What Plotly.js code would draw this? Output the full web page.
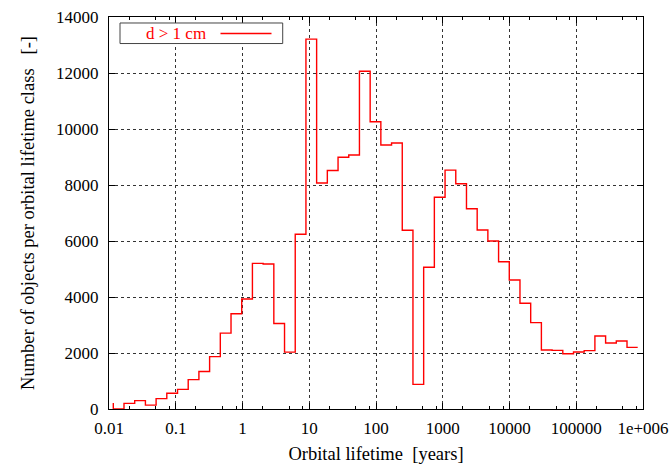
<!DOCTYPE html>
<html>
<head>
<meta charset="utf-8">
<script src="https://cdn.plot.ly/plotly-3.0.1.min.js"></script>
<style>
html,body{margin:0;padding:0;background:#fff;}
#chart{width:672px;height:469px;}
</style>
</head>
<body>
<div id="chart"></div>
<script>
// Step points (orbital lifetime class boundaries, years) and object counts
const lifetimeYears = [
  0.01160, 0.01678, 0.02427, 0.03511, 0.05078, 0.07345, 0.1063, 0.1537, 0.2223, 0.3216,
  0.4652, 0.6730, 0.9736, 1.408, 2.037, 2.947, 4.263, 6.166, 8.920, 12.90,
  18.66, 27.01, 39.06, 56.49, 81.74, 118.2, 171.0, 247.4, 357.9, 517.6,
  748.8, 1083, 1567, 2267, 3280, 4742, 6862, 9924, 14350, 20770,
  30040, 43450, 62860, 90940, 131500, 190300, 275300, 398100, 576000, 833100
];
const objectCounts = [
  215, 0, 200, 300, 140, 370, 560, 700, 1050, 1340,
  1870, 2710, 3400, 3930, 5200, 5180, 3055, 2030, 6240, 13210,
  8070, 8520, 8990, 9070, 12065, 10260, 9430, 9500, 6385, 880,
  5060, 7560, 8530, 8045, 7150, 6395, 6000, 5260, 4605, 3775,
  3085, 2105, 2095, 1975, 2035, 2085, 2605, 2355, 2430, 2200
];
const seriesName = 'd > 1 cm';
const xTickVals = [0.01, 0.1, 1, 10, 100, 1000, 10000, 100000, 1000000];
const xTickText = ['0.01', '0.1', '1', '10', '100', '1000', '10000', '100000', '1e+006'];
const minorMultiples = [2, 5, 8];

const minorVals = [];
xTickVals.slice(0, -1).forEach(d => minorMultiples.forEach(m => minorVals.push(d * m)));

const FONT = '"Liberation Serif", "Times New Roman", serif';

const trace = {
  x: lifetimeYears,
  y: objectCounts,
  type: 'scatter',
  mode: 'lines',
  name: seriesName,
  line: {shape: 'vh', color: '#ff0000', width: 1.4},
  showlegend: false,
  hoverinfo: 'x+y'
};

const axisCommon = {
  showline: true, linecolor: '#000', linewidth: 1,
  mirror: 'allticks', ticks: 'inside', ticklen: 6, tickcolor: '#000', tickwidth: 1,
  showgrid: true, gridcolor: '#333', griddash: 'dot', gridwidth: 1,
  zeroline: false,
  tickfont: {family: FONT, size: 17, color: '#000'}
};

const layout = {
  width: 672, height: 469,
  margin: {l: 109, r: 29, t: 17, b: 60},
  paper_bgcolor: '#fff', plot_bgcolor: '#fff',
  font: {family: FONT, size: 17, color: '#000'},
  xaxis: Object.assign({}, axisCommon, {
    type: 'log', range: [-2, 6],
    tickmode: 'array', tickvals: xTickVals, ticktext: xTickText,
    ticklabelstandoff: 4,
    minor: {tickmode: 'array', tickvals: minorVals, ticks: 'inside', ticklen: 3, tickcolor: '#000', showgrid: false},
    title: {text: 'Orbital lifetime\u00a0\u00a0[years]', font: {family: FONT, size: 18.5, color: '#000'}, standoff: 9}
  }),
  yaxis: Object.assign({}, axisCommon, {
    range: [0, 14000], tickmode: 'linear', tick0: 0, dtick: 2000, tickformat: 'd',
    ticklabelstandoff: 6,
    title: {text: 'Number of objects per orbital lifetime class\u00a0\u00a0\u00a0[-]', font: {family: FONT, size: 18.5, color: '#000'}, standoff: 16}
  }),
  shapes: [
    {type: 'rect', xref: 'paper', yref: 'paper', x0: 0.0206, x1: 0.3253, y0: 0.9323, y1: 0.9847,
     line: {color: '#444', width: 1}, fillcolor: '#fff'},
    {type: 'line', xref: 'paper', yref: 'paper', x0: 0.2088, x1: 0.3043, y0: 0.9578, y1: 0.9578,
     line: {color: '#ff0000', width: 1.4}}
  ],
  annotations: [
    {xref: 'paper', yref: 'paper', x: 0.1255, y: 0.9578, text: seriesName, showarrow: false,
     xanchor: 'center', yanchor: 'middle', font: {family: FONT, size: 17, color: '#ff0000'}}
  ]
};

Plotly.newPlot('chart', [trace], layout, {displayModeBar: false, staticPlot: true});
</script>
</body>
</html>
